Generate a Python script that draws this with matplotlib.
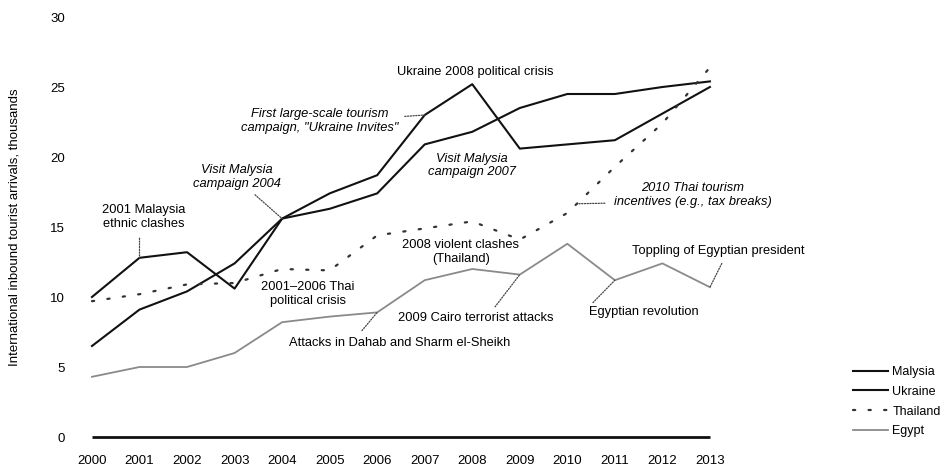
import matplotlib.pyplot as plt
import numpy as np

plt.rcParams['font.family'] = ['Liberation Sans', 'DejaVu Sans']

# -----------------------------
# DATA
# -----------------------------
years = np.arange(2000, 2014)
malaysia = [10.0, 12.8, 13.2, 10.6, 15.6, 16.3, 17.4, 20.9, 21.8, 23.5, 24.5, 24.5, 25.0, 25.4]
ukraine = [6.5, 9.1, 10.4, 12.4, 15.6, 17.4, 18.7, 23.0, 25.2, 20.6, 20.9, 21.2, 23.1, 25.0]
thailand = [9.7, 10.2, 10.9, 11.0, 12.0, 11.9, 14.4, 14.9, 15.4, 14.1, 16.0, 19.3, 22.4, 26.4]
egypt = [4.3, 5.0, 5.0, 6.0, 8.2, 8.6, 8.9, 11.2, 12.0, 11.6, 13.8, 11.2, 12.4, 10.7]

yticks = [0, 5, 10, 15, 20, 25, 30]

# -----------------------------
# FIGURE
# -----------------------------
fig = plt.figure(figsize=(9.43, 4.69), dpi=100)
ax = fig.add_axes([77.7 / 943, 18 / 469, 646.5 / 943, 441 / 469])

ax.plot(years, malaysia, color='#111111', lw=1.5, label='Malysia')
ax.plot(years, ukraine, color='#111111', lw=1.5, label='Ukraine')
ax.plot(years, thailand, color='#333333', lw=1.6, linestyle=(0, (1, 6)),
        dash_capstyle='round', label='Thailand')
ax.plot(years, egypt, color='#8a8a8a', lw=1.3, label='Egypt')
ax.hlines(0, years[0], years[-1], color='#111111', lw=2)

ax.set_xlim(1999.7, 2013.3)
ax.set_ylim(-1, 30.5)
ax.set_xticks(years)
ax.set_xticklabels([str(y) for y in years], fontsize=9.5)
ax.set_yticks(yticks)
ax.set_yticklabels([str(v) for v in yticks], fontsize=9.5)
ax.tick_params(axis='x', length=0, pad=3)
ax.tick_params(axis='y', length=0, pad=9)
for s in ax.spines.values():
    s.set_visible(False)

fig.text(15 / 943, 0.516, "International inbound tourist arrivals, thousands",
         rotation=90, ha='center', va='center', fontsize=9.5)

# -----------------------------
# ANNOTATIONS
# -----------------------------
fs = 9.3
lead = dict(arrowstyle='-', color='#444444', lw=0.9, linestyle=(0, (1, 1.2)),
            shrinkA=0, shrinkB=0)

def nota(texto, x, y, italico=False):
    ax.text(x, y, texto, ha='center', va='center', fontsize=fs,
            style='italic' if italico else 'normal', linespacing=1.2)

def linha(x0, y0, x1, y1):
    ax.annotate('', xy=(x1, y1), xytext=(x0, y0), arrowprops=lead)

nota("Ukraine 2008 political crisis", 2008.06, 26.1)

nota("First large-scale tourism\ncampaign, \"Ukraine Invites\"", 2004.80, 22.6, True)
linha(2006.58, 22.9, years[7], ukraine[7])

nota("Visit Malysia\ncampaign 2004", 2003.05, 18.6, True)
linha(2003.43, 17.3, years[4], malaysia[4])

nota("Visit Malysia\ncampaign 2007", 2007.99, 19.4, True)

nota("2010 Thai tourism\nincentives (e.g., tax breaks)", 2012.64, 17.3, True)
linha(2010.79, 16.7, 2010.2, np.interp(2010.2, years, thailand))

nota("2001 Malaysia\nethnic clashes", 2001.09, 15.7)
linha(years[1], 14.2, years[1], malaysia[1])

nota("2001\u20132006 Thai\npolitical crisis", 2004.54, 10.2)

nota("2008 violent clashes\n(Thailand)", 2007.76, 13.2)

nota("2009 Cairo terrorist attacks", 2008.08, 8.5)
linha(2008.48, 9.3, years[9], egypt[9])

nota("Attacks in Dahab and Sharm el-Sheikh", 2006.48, 6.7)
linha(2005.68, 7.6, years[6], egypt[6])

nota("Egyptian revolution", 2011.61, 8.9)
linha(2010.54, 9.6, years[11], egypt[11])

nota("Toppling of Egyptian president", 2013.17, 13.3)
linha(2013.25, 12.4, years[13], egypt[13])

# -----------------------------
# LEGEND
# -----------------------------
fig.legend(loc='upper left', bbox_to_anchor=(853 / 943, 103 / 469),
           frameon=False, fontsize=9, handlelength=2.8, handletextpad=0.35,
           labelspacing=0.62, borderpad=0, borderaxespad=0)

fig.savefig('out.png', dpi=100)
